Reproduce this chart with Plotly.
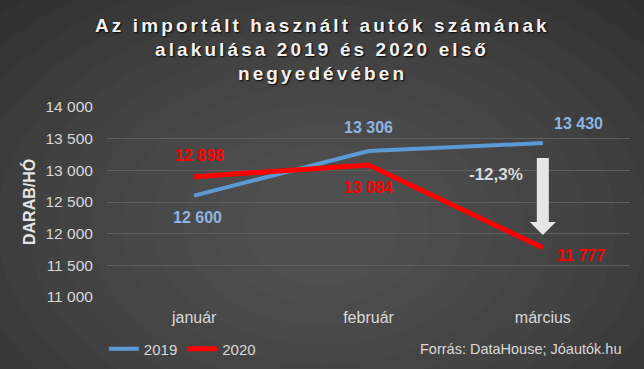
import plotly.graph_objects as go

months = ["január", "február", "március"]
y2019 = [12600, 13306, 13430]
y2020 = [12898, 13084, 11777]
change_label = "-12,3%"
title_lines = ["Az importált használt autók számának",
               "alakulása 2019 és 2020 első",
               "negyedévében"]
y_title = "DARAB/HÓ"
source = "Forrás: DataHouse; Jóautók.hu"

BLUE = "#5B9BD5"
BLUE_LBL = "#8DB4E2"
RED = "#FF0000"
TXT = "#D9D9D9"
FONT = "Liberation Sans, Arial, sans-serif"

def fmt(v):
    return f"{v:,}".replace(",", " ")

fig = go.Figure()
fig.add_trace(go.Scatter(x=months, y=y2019, mode="lines", name="2019",
                         line=dict(color=BLUE, width=4)))
fig.add_trace(go.Scatter(x=months, y=y2020, mode="lines", name="2020",
                         line=dict(color=RED, width=5)))

# Data labels (offsets in pixels)
off2019 = [(3, -22), (0, 23), (36, 20)]
off2020 = [(5, 21), (0, -22), (38, -8)]
ann = []
for i, m in enumerate(months):
    dx, dy = off2019[i]
    ann.append(dict(x=m, y=y2019[i], xref="x", yref="y", text=fmt(y2019[i]),
                    showarrow=False, xshift=dx, yshift=dy, xanchor="center",
                    font=dict(family=FONT, size=16, color=BLUE_LBL, weight="bold")))
    dx, dy = off2020[i]
    ann.append(dict(x=m, y=y2020[i], xref="x", yref="y", text=fmt(y2020[i]),
                    showarrow=False, xshift=dx, yshift=dy, xanchor="center",
                    font=dict(family=FONT, size=16, color=RED, weight="bold")))

ann.append(dict(x=(496 - 107) / 523, y=13000, xref="paper", yref="y", text=change_label,
                showarrow=False, yshift=-4, xanchor="center",
                font=dict(family=FONT, size=17, color=TXT, weight="bold")))
ann.append(dict(x=(29 - 107) / 523, y=0.5, xref="paper", yref="paper", text=y_title,
                textangle=-90, showarrow=False, xanchor="center", yanchor="middle",
                font=dict(family=FONT, size=16, color="#E6E6E6", weight="bold")))
ann.append(dict(x=(624 - 107) / 523, y=(297 - 349) / 190, xref="paper", yref="paper",
                text=source, xanchor="right", yanchor="middle", showarrow=False,
                font=dict(family=FONT, size=14.5, color=TXT)))

# Title lines with letter spacing
title_y = [25, 49.5, 74]
for line, py in zip(title_lines, title_y):
    ann.append(dict(x=(322 - 107) / 523, y=(297 - py) / 190, xref="paper", yref="paper",
                    text=f'<span style="letter-spacing:3.1px">{line}</span>',
                    xanchor="center", yanchor="middle", showarrow=False,
                    font=dict(family=FONT, size=19, color="#F2F2F2", weight="bold",
                              shadow="1px 1px 2px #000")))

shapes = []
# radial-ish background gradient
cx, cy = (322 - 107) / 523, (297 - 225) / 190
for k in range(14):
    rx = (480 - k * 31) / 523
    ry = (320 - k * 20) / 190
    shapes.append(dict(type="circle", xref="paper", yref="paper", layer="below",
                       x0=cx - rx, x1=cx + rx, y0=cy - ry, y1=cy + ry,
                       fillcolor="rgba(255,255,255,0.016)", line=dict(width=0)))

# block arrow (paper x, data y)
xc = 5 / 6
sw = 6 / 523
hw = 13 / 523
y_top, y_head, y_tip = 13195, 12184, 11979
path = (f"M {xc-sw},{y_top} L {xc+sw},{y_top} L {xc+sw},{y_head} L {xc+hw},{y_head} "
        f"L {xc},{y_tip} L {xc-hw},{y_head} L {xc-sw},{y_head} Z")
shapes.append(dict(type="path", xref="paper", yref="y", path=path,
                   fillcolor="#E6E6E6", line=dict(width=0), layer="above"))

fig.update_layout(
    width=644, height=369,
    margin=dict(l=107, r=14, t=107, b=72, autoexpand=False),
    paper_bgcolor="#2C2C2C",
    plot_bgcolor="rgba(0,0,0,0)",
    separators=", ",
    font=dict(family=FONT, color=TXT, size=14),
    xaxis=dict(range=[-0.5, 2.5], showgrid=False, zeroline=False, showline=False,
               automargin=False, ticks="outside", ticklen=6,
               tickcolor="rgba(0,0,0,0)", tickfont=dict(size=16, color=TXT)),
    yaxis=dict(range=[11000, 14000], dtick=500, tickformat=",",
               gridcolor="#5E5E5E", gridwidth=1, zeroline=False, showline=False,
               automargin=False, ticks="outside", ticklen=10,
               tickcolor="rgba(0,0,0,0)", tickfont=dict(size=15.5, color=TXT)),
    legend=dict(orientation="h", x=-0.006, xanchor="left", y=(297 - 349) / 190,
                yanchor="middle", font=dict(size=15, color=TXT),
                bgcolor="rgba(0,0,0,0)"),
    annotations=ann,
    shapes=shapes,
)

fig.write_html("out.html", config={"displayModeBar": False},
               post_script="document.body.style.margin='0';document.body.style.overflow='hidden';")
